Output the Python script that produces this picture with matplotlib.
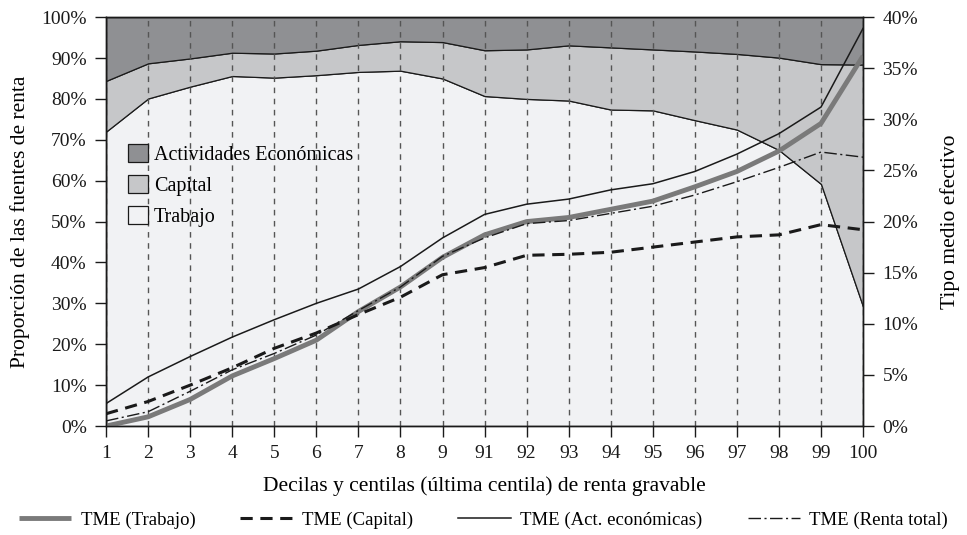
import matplotlib
matplotlib.use("Agg")
import matplotlib.pyplot as plt
import numpy as np
from matplotlib.ticker import PercentFormatter

plt.rcParams['font.family'] = ['Liberation Serif', 'DejaVu Serif']
plt.rcParams['font.size'] = 14

labels = ["1", "2", "3", "4", "5", "6", "7", "8", "9",
          "91", "92", "93", "94", "95", "96", "97", "98", "99", "100"]

# shares of income sources (%)
trabajo = [72.0, 80.1, 83.0, 85.6, 85.2, 85.8, 86.6, 86.9, 85.0, 80.7,
           80.0, 79.6, 77.4, 77.2, 74.8, 72.5, 67.5, 59.2, 29.2]
capital = [12.4, 8.6, 6.9, 5.7, 5.9, 6.0, 6.6, 7.2, 8.9, 11.2,
           12.1, 13.5, 15.2, 14.9, 16.8, 18.5, 22.6, 29.3, 59.2]
actividades = [15.6, 11.3, 10.1, 8.7, 8.9, 8.2, 6.8, 5.9, 6.1, 8.1,
               7.9, 6.9, 7.4, 7.9, 8.4, 9.0, 9.9, 11.5, 11.6]

# effective average tax rate (%)
tme_trabajo = [0.0, 0.9, 2.6, 4.9, 6.6, 8.4, 11.2, 13.6, 16.5, 18.7,
               20.0, 20.4, 21.2, 22.0, 23.4, 24.9, 26.9, 29.6, 36.2]
tme_capital = [1.2, 2.4, 4.0, 5.7, 7.6, 9.1, 10.9, 12.6, 14.8, 15.5,
               16.7, 16.8, 17.0, 17.5, 18.0, 18.5, 18.7, 19.7, 19.2]
tme_actividades = [2.2, 4.8, 6.8, 8.7, 10.4, 12.0, 13.4, 15.6, 18.4, 20.7,
                   21.7, 22.2, 23.1, 23.7, 24.9, 26.6, 28.6, 31.2, 38.9]
tme_total = [0.5, 1.4, 3.4, 5.5, 7.1, 8.9, 11.3, 13.6, 16.6, 18.4,
             19.8, 20.1, 20.8, 21.5, 22.6, 23.9, 25.3, 26.8, 26.3]

x = np.arange(len(labels))

fig = plt.figure(figsize=(9.67, 5.35), dpi=100)
ax = fig.add_axes([0.1097, 0.2037, 0.7828, 0.7643])

areas = ax.stackplot(x, trabajo, capital, actividades,
                     colors=["#f1f2f4", "#c6c7c9", "#8f9093"],
                     edgecolor="#1a1a1a", linewidth=0.9,
                     labels=["Trabajo", "Capital", "Actividades Económicas"])
ax.set_xlim(0, len(labels) - 1)
ax.set_ylim(0, 100)
ax.set_xticks(x)
ax.set_xticklabels(labels)
ax.yaxis.set_major_locator(plt.MultipleLocator(10))
ax.yaxis.set_major_formatter(PercentFormatter(decimals=0))
ax.grid(axis="x", color="#555555", linestyle=(0, (4, 4)), linewidth=1)
ax.tick_params(direction="out", length=8, width=1, colors="#1a1a1a", pad=6)
ax.set_ylabel("Proporción de las fuentes de renta", fontsize=15.5, labelpad=8)
ax.set_xlabel("Decilas y centilas (última centila) de renta gravable",
              fontsize=15.5, labelpad=10)

h, l = ax.get_legend_handles_labels()
ax.legend(h[::-1], l[::-1], loc="upper left", bbox_to_anchor=(0.01, 0.725),
          frameon=False, fontsize=14.5, handlelength=1.0, handleheight=1.0,
          handletextpad=0.3, labelspacing=0.5, borderaxespad=0.3)

ax2 = ax.twinx()
l1, = ax2.plot(x, tme_trabajo, color="#7a7a7a", lw=3.5, label="TME (Trabajo)",
               solid_capstyle="butt")
l2, = ax2.plot(x, tme_capital, color="#1a1a1a", lw=2.2, dashes=(4, 2.5),
               label="TME (Capital)")
l3, = ax2.plot(x, tme_actividades, color="#1a1a1a", lw=1.1,
               label="TME (Act. económicas)")
l4, = ax2.plot(x, tme_total, color="#1a1a1a", lw=1.0, dashes=(9, 2.5, 1.5, 2.5),
               label="TME (Renta total)")
ax2.set_ylim(0, 40)
ax2.yaxis.set_major_locator(plt.MultipleLocator(5))
ax2.yaxis.set_major_formatter(PercentFormatter(decimals=0))
ax2.tick_params(direction="out", length=8, width=1, colors="#1a1a1a", pad=6)
ax2.set_ylabel("Tipo medio efectivo", fontsize=15.5, labelpad=16)

for a in (ax, ax2):
    for s in a.spines.values():
        s.set_color("#1a1a1a")
        s.set_linewidth(1)

fig.legend(handles=[l1, l2, l3, l4], loc="lower center",
           bbox_to_anchor=(0.5, -0.02), ncol=4, frameon=False, fontsize=13.5,
           handlelength=2.8, columnspacing=2.4, handletextpad=0.5)

fig.savefig("out.png", dpi=100)
